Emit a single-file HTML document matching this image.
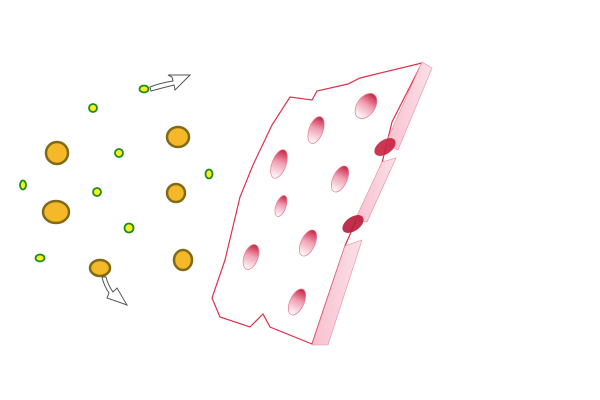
<!DOCTYPE html>
<html><head><meta charset="utf-8"><style>html,body{margin:0;padding:0;background:#fff;}svg{display:block}</style></head>
<body>
<svg width="600" height="400" viewBox="0 0 600 400">
<defs>
<linearGradient id="hole" x1="0" y1="0" x2="0" y2="1">
<stop offset="0" stop-color="#c8203e"/><stop offset="0.45" stop-color="#f0a0b4"/><stop offset="1" stop-color="#fff"/>
</linearGradient>
<linearGradient id="band" x1="0" y1="0" x2="1" y2="0">
<stop offset="0" stop-color="#f7c0cf"/><stop offset="1" stop-color="#fbe0e8"/>
</linearGradient>
</defs>
<g>
<path d="M422,63 L360,78 L348,84 L317,91 L312,100 L290,97 L272,125 L253,165 L240,197 L225,260 L212,298 L220,317 L250,327 L263,314 L270,327 L312,344 L345,246 L357,218 L382,163 L392,122 Z" fill="#fff" stroke="#e0304a" stroke-width="1.2"/>
<polygon points="422,62 432,68 398,150 385,145" fill="url(#band)" stroke="#ea8aa0" stroke-width="0.6"/>
<polygon points="382,162 396,158 367,222 355,220" fill="url(#band)" stroke="#ea8aa0" stroke-width="0.6"/>
<polygon points="345,246 362,240 328,345 312,345" fill="url(#band)" stroke="#ea8aa0" stroke-width="0.6"/>
<ellipse cx="385" cy="147" rx="7" ry="12" transform="rotate(55 385 147)" fill="#c8203e" opacity="0.9"/>
<ellipse cx="353" cy="224" rx="7" ry="12" transform="rotate(55 353 224)" fill="#b81a38" opacity="0.9"/>
<g stroke="#e77a92" stroke-width="0.7">
<ellipse cx="366" cy="106" rx="9" ry="14" transform="rotate(35 366 106)" fill="url(#hole)"/>
<ellipse cx="316" cy="130" rx="7" ry="14" transform="rotate(20 316 130)" fill="url(#hole)"/>
<ellipse cx="279" cy="164" rx="7" ry="15" transform="rotate(20 279 164)" fill="url(#hole)"/>
<ellipse cx="340" cy="179" rx="7" ry="14" transform="rotate(25 340 179)" fill="url(#hole)"/>
<ellipse cx="281" cy="206" rx="5" ry="11" transform="rotate(20 281 206)" fill="url(#hole)"/>
<ellipse cx="308" cy="243" rx="7" ry="14" transform="rotate(25 308 243)" fill="url(#hole)"/>
<ellipse cx="251" cy="257" rx="7" ry="13" transform="rotate(20 251 257)" fill="url(#hole)"/>
<ellipse cx="297" cy="302" rx="7" ry="14" transform="rotate(25 297 302)" fill="url(#hole)"/>
</g>
</g>
<g fill="#f4b828" stroke="#7f6a15" stroke-width="2.5">
<circle cx="57" cy="153" r="11"/>
<ellipse cx="56" cy="212" rx="13" ry="11"/>
<ellipse cx="178" cy="137" rx="11" ry="10"/>
<circle cx="176" cy="193" r="9"/>
<ellipse cx="183" cy="260" rx="9" ry="10"/>
<ellipse cx="100" cy="268" rx="10" ry="8"/>
</g>
<g fill="#f4f020" stroke="#1f8a1f" stroke-width="1.8">
<ellipse cx="144" cy="89" rx="4.5" ry="3.5"/>
<circle cx="93" cy="108" r="4"/>
<circle cx="119" cy="153" r="4"/>
<ellipse cx="23" cy="185" rx="3" ry="4.5"/>
<circle cx="97" cy="192" r="4"/>
<ellipse cx="209" cy="174" rx="3.5" ry="4.5"/>
<circle cx="129" cy="228" r="4.5"/>
<ellipse cx="40" cy="258" rx="4.5" ry="3.5"/>
</g>
<g fill="#fff" stroke="#555" stroke-width="1">
<path d="M150,87 Q160,83 173,81 L172,77 L168,75 L190,75 L175,90 L174,85 Q162,88 151,91 Z"/>
<path d="M102,277 Q104,286 109,293 L107,298 L127,305 L117,288 L113,292 Q108,285 106,277 Z"/>
</g>
</svg>
</body></html>
